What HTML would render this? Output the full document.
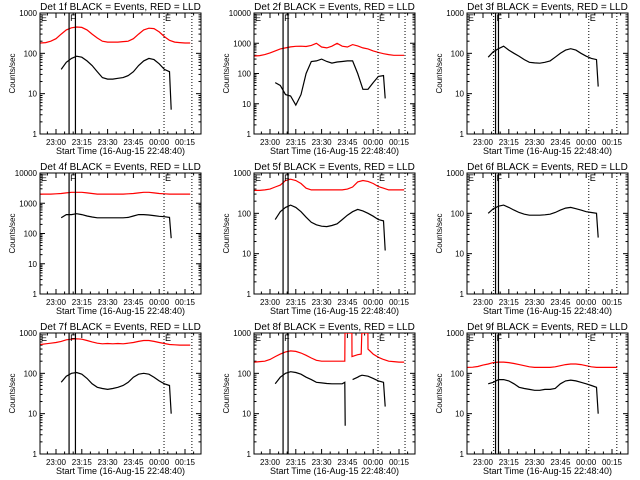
<!DOCTYPE html>
<html><head><meta charset="utf-8">
<style>
body{margin:0;background:#fff;}
svg{display:block;font-family:"Liberation Sans",sans-serif;}
</style></head>
<body>
<svg id="c" width="640" height="480" viewBox="0 0 640 480" xmlns="http://www.w3.org/2000/svg"></svg>
<script>
// time grids (minutes after 23:00)
const redT = [-9,-6,-3,0,3,6,9,12,15,18,21,24,27,30,33,36,39,42,45,48,51,54,57,60,63,66,69,72,75,78];
const blackT = [3,6,9,12,15,18,21,24,27,30,33,36,39,42,45,48,51,54,57,60,63,66,67];
const xTickLabels = ["23:00","23:15","23:30","23:45","00:00","00:15"];
const xTickMinutes = [0,15,30,45,60,75];

const p1Red = [180,185,200,230,300,380,430,450,440,380,300,240,200,190,190,190,195,200,230,300,380,420,410,340,260,210,190,185,180,180];
const p1Black = [40,60,75,85,80,65,50,35,25,23,23,24,25,28,35,50,65,75,70,55,40,35,4];
const p2Red = [380,390,420,480,560,650,700,760,790,800,780,850,1000,750,700,800,1000,800,750,900,820,700,650,560,500,450,420,400,400,400];
const p2Black = [50,40,20,18,9,20,100,250,260,300,250,220,240,250,260,260,100,30,30,50,80,85,15];
const p3Black = [80,110,130,150,120,100,85,70,60,58,57,60,65,80,100,120,130,120,100,85,75,70,15];
const p4Red = [2000,2000,2000,2050,2100,2200,2300,2300,2300,2200,2100,2000,2000,2000,2000,2000,2000,2050,2100,2200,2300,2300,2200,2100,2050,2000,2000,2000,2000,2000];
const p4Black = [330,420,420,450,420,380,350,330,330,330,330,330,330,340,380,420,420,410,390,370,360,340,70];
const p5Red = [370,370,380,400,450,500,650,700,650,550,420,380,380,380,380,380,380,380,400,450,600,650,620,550,460,420,380,380,380,380];
const p5Black = [70,110,140,160,140,110,80,60,52,48,47,50,55,70,90,110,125,115,100,85,70,65,12];
const p6Black = [100,130,150,160,140,120,105,95,90,90,90,92,95,105,120,135,140,130,120,110,105,100,25];
const p7Red = [520,540,560,580,620,680,700,720,700,650,600,560,540,550,540,550,540,560,580,620,650,650,620,580,550,520,510,500,500,500];
const p7Black = [60,85,100,105,95,75,55,45,42,40,42,45,50,60,80,95,100,95,80,65,55,50,10];
const p8RedT = [-9,-6,-3,0,3,6,9,12,15,18,21,24,27,30,33,36,39,42,43.5,43.6,47.6,47.7,51,53,53.4,56.9,57,60,63,66,69,72,75,78];
const p8Red = [190,195,200,220,260,300,340,360,350,320,280,240,210,200,200,200,200,200,200,5000,5000,260,290,300,5000,5000,400,300,250,220,200,195,190,190];
const p8BlackT = [3,6,9,12,15,18,21,24,27,30,33,36,39,42,43.5,43.7,44,48,51,52,53.5,57,60,63,66,67];
const p8Black = [55,80,100,110,105,95,80,70,60,58,56,55,55,55,60,5,null,70,80,85,90,85,75,65,60,15];
const p9Red = [140,142,148,160,170,185,190,190,185,175,165,155,145,140,140,140,140,145,155,165,170,170,165,155,145,140,140,140,140,140];
const p9Black = [55,60,70,70,65,55,45,42,40,38,38,40,40,42,55,65,68,65,60,55,50,45,10];

const colX = [40,254,467], rowY = [13,173,333], W = 161, H = 121;
const tMin = -9.3, tMax = 84.3;
const panels = [
 {n:"1f",c:0,r:0,dec:3,red:p1Red,redT:redT,black:p1Black,blackT:blackT,solid:[7.6,11.3],dot:[62.8,79]},
 {n:"2f",c:1,r:0,dec:4,red:p2Red,redT:redT,black:p2Black,blackT:blackT,solid:[7.6,10.5],dot:[62.8,78.5]},
 {n:"3f",c:2,r:0,dec:3,red:null,black:p3Black,blackT:blackT,solid:[7.3,9.0],dot:[6.2,61.5,77.8]},
 {n:"4f",c:0,r:1,dec:4,red:p4Red,redT:redT,black:p4Black,blackT:blackT,solid:[7.6,11.3],dot:[62.8,79]},
 {n:"5f",c:1,r:1,dec:3,red:p5Red,redT:redT,black:p5Black,blackT:blackT,solid:[7.6,10.5],dot:[62.8,78.5]},
 {n:"6f",c:2,r:1,dec:3,red:null,black:p6Black,blackT:blackT,solid:[7.3,9.0],dot:[6.2,61.5,77.8]},
 {n:"7f",c:0,r:2,dec:3,red:p7Red,redT:redT,black:p7Black,blackT:blackT,solid:[7.6,11.3],dot:[62.8,79]},
 {n:"8f",c:1,r:2,dec:3,red:p8Red,redT:p8RedT,black:p8Black,blackT:p8BlackT,solid:[7.6,10.5],dot:[62.8,78.5]},
 {n:"9f",c:2,r:2,dec:3,red:p9Red,redT:redT,black:p9Black,blackT:blackT,solid:[7.3,9.0],dot:[6.2,61.5,77.8]}
];
const svg = document.getElementById('c');
const NS = "http://www.w3.org/2000/svg";
function mk(tag, attrs, parent){const e=document.createElementNS(NS,tag);for(const k in attrs)e.setAttribute(k,attrs[k]);parent.appendChild(e);return e;}

panels.forEach(p=>{
  const x0=colX[p.c], y0=rowY[p.r];
  const g=mk('g',{},svg);
  
  
  const xs=t=>x0+(t-tMin)/(tMax-tMin)*W;
  const ys=v=>{let l=Math.log10(Math.max(v,1));l=Math.min(l,p.dec);return y0+H-l/p.dec*H;};
  // clip
  const cid='clip'+p.n;
  const cp=mk('clipPath',{id:cid},g);
  mk('rect',{x:x0,y:y0,width:W,height:H},cp);
  // title
  const ti=mk('text',{x:x0+W/2,y:y0-3,'text-anchor':'middle','font-size':'10'},g);
  ti.textContent='Det '+p.n+' BLACK = Events, RED = LLD';
  
  
  // y label
  const yl=mk('text',{x:0,y:0,'text-anchor':'middle','font-size':'8',transform:`translate(${x0-25},${y0+H/2}) rotate(-90)`},g);
  yl.textContent='Counts/sec';
  
  
  // x title
  const xt=mk('text',{x:x0+W/2,y:y0+H+20,'text-anchor':'middle','font-size':'9'},g);
  xt.textContent='Start Time (16-Aug-15 22:48:40)';
  
  
  // y ticks
  for(let d=0;d<=p.dec;d++){
    const y=ys(Math.pow(10,d));
    const lb=mk('text',{x:x0-3,y:y+3,'text-anchor':'end','font-size':'8'},g);
    lb.textContent=String(Math.pow(10,d));
    
    
    mk('line',{x1:x0,x2:x0+5,y1:y,y2:y,stroke:'#000'},g);
    mk('line',{x1:x0+W,x2:x0+W-5,y1:y,y2:y,stroke:'#000'},g);
    if(d<p.dec){for(let m=2;m<10;m++){const yy=ys(m*Math.pow(10,d));
      mk('line',{x1:x0,x2:x0+2.5,y1:yy,y2:yy,stroke:'#000'},g);
      mk('line',{x1:x0+W,x2:x0+W-2.5,y1:yy,y2:yy,stroke:'#000'},g);}}
  }
  // x ticks
  xTickMinutes.forEach((m,i)=>{
    const x=xs(m);
    mk('line',{x1:x,x2:x,y1:y0+H,y2:y0+H-5,stroke:'#000'},g);
    mk('line',{x1:x,x2:x,y1:y0,y2:y0+5,stroke:'#000'},g);
    const lb=mk('text',{x:x,y:y0+H+11,'text-anchor':'middle','font-size':'8'},g);
    lb.textContent=xTickLabels[i];
    
    
  });
  for(let m=-5;m<=84;m+=5){if(m%15===0)continue;const x=xs(m);if(x<x0)continue;
    mk('line',{x1:x,x2:x,y1:y0+H,y2:y0+H-2.5,stroke:'#000'},g);
    mk('line',{x1:x,x2:x,y1:y0,y2:y0+2.5,stroke:'#000'},g);}
  // frame
  const fr=mk('rect',{x:x0,y:y0,width:W,height:H,fill:'none',stroke:'#000'},g);
  
  
  // series
  function path(T,V){let d='',pen=false;T.forEach((t,i)=>{const v=V[i];if(v===null||v===undefined){pen=false;return;}
    d+=(pen?'L':'M')+xs(t).toFixed(1)+' '+ys(v).toFixed(1)+' ';pen=true;});return d;}
  if(p.red){const r=mk('path',{d:path(p.redT,p.red),fill:'none',stroke:'#ff0000','stroke-width':'1.2','clip-path':`url(#${cid})`},g);
    
    }
  const b=mk('path',{d:path(p.blackT,p.black),fill:'none',stroke:'#000','stroke-width':'1.2','clip-path':`url(#${cid})`},g);
  
  
  // markers
  p.solid.forEach(t=>{const l=mk('line',{x1:xs(t),x2:xs(t),y1:y0,y2:y0+H,stroke:'#000','stroke-width':'1.2'},g);
    
    });
  p.dot.forEach(t=>{const l=mk('line',{x1:xs(t),x2:xs(t),y1:y0,y2:y0+H,stroke:'#000','stroke-dasharray':'1 2'},g);
    
    });
  const lbls=[[x0+1,'E'],[xs(p.solid[0])+1,'F'],[xs(p.dot[p.dot.length-2])+1,'E']];
  lbls.forEach(a=>{const t=mk('text',{x:a[0],y:y0+8,'font-size':'9'},g);t.textContent=a[1];
    
    });
});
</script>
</body></html>
